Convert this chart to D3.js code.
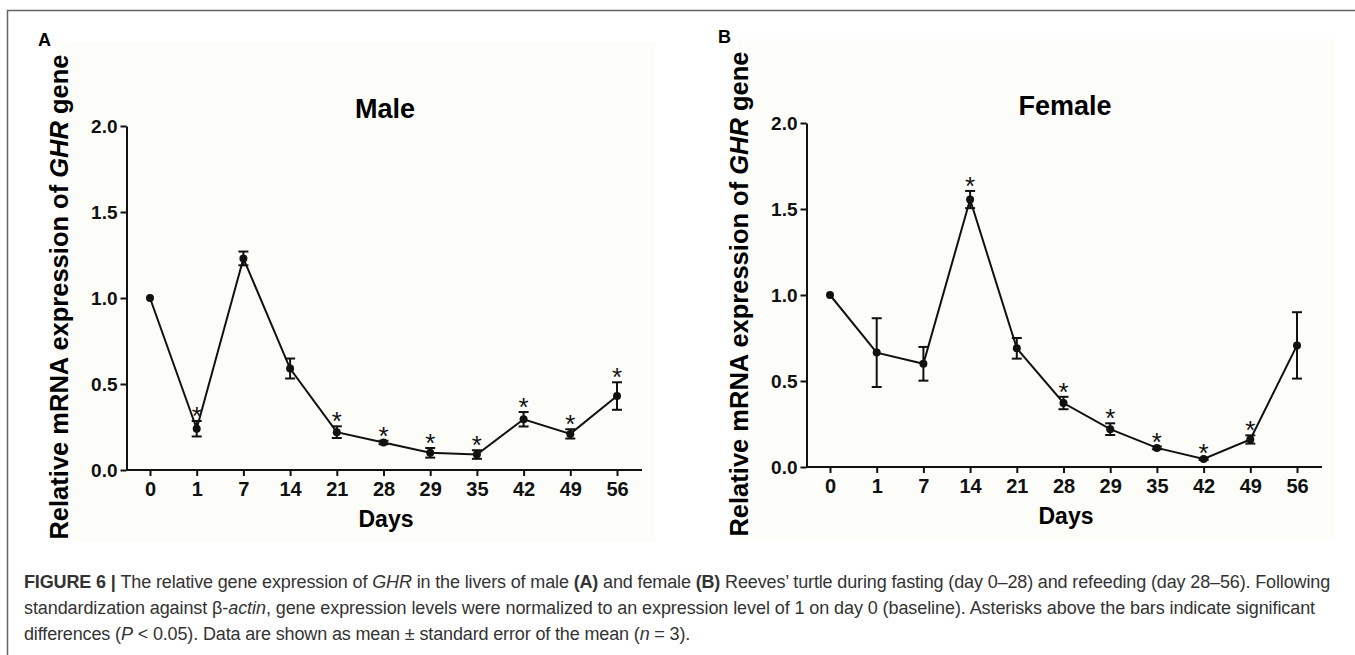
<!DOCTYPE html>
<html>
<head>
<meta charset="utf-8">
<script src="https://cdn.jsdelivr.net/npm/d3@7/dist/d3.min.js"></script>
<style>
  body { margin: 0; background: #fff; }
  svg { display: block; font-family: "Liberation Sans", Arial, sans-serif; }
</style>
</head>
<body>
<div id="chart"></div>
<script>
// days on the x axis
const days = ["0", "1", "7", "14", "21", "28", "29", "35", "42", "49", "56"];
const yTicks = [0, 0.5, 1.0, 1.5, 2.0];

// male (A)
const maleMean = [1.0, 0.24, 1.23, 0.59, 0.22, 0.16, 0.10, 0.09, 0.295, 0.21, 0.43];
const maleSem  = [0, 0.045, 0.04, 0.058, 0.034, 0.01, 0.028, 0.025, 0.042, 0.027, 0.08];
const maleSig  = [false, true, false, false, true, true, true, true, true, true, true];

// female (B)
const femaleMean = [1.0, 0.665, 0.60, 1.555, 0.69, 0.372, 0.22, 0.111, 0.047, 0.16, 0.707];
const femaleSem  = [0, 0.2, 0.098, 0.05, 0.06, 0.036, 0.034, 0.008, 0.006, 0.024, 0.193];
const femaleSig  = [false, false, false, true, false, true, true, true, true, true, false];

const W = 1355, H = 655;
const svg = d3.select("#chart").append("svg").attr("width", W).attr("height", H);

// figure frame (top + left edge)
svg.append("path")
  .attr("d", `M7.5,${H} V10.5 H${W}`)
  .attr("fill", "none").attr("stroke", "#666").attr("stroke-width", 1.5);

function panel(letter, title, mean, sem, sig, ox, oy) {
  const g = svg.append("g").attr("transform", `translate(${ox},${oy})`);

  // faint plot background like the scanned figure
  g.append("rect").attr("x", 57).attr("y", 42).attr("width", 598).attr("height", 500)
    .attr("fill", "#fcfcf9");

  const x = d3.scalePoint().domain(days).range([150, 617]);
  const y = d3.scaleLinear().domain([0, 2]).range([470, 126]);

  g.append("text").attr("x", 38).attr("y", 46)
    .style("font-size", "18px").style("font-weight", "700").text(letter);

  g.append("text").attr("x", 385).attr("y", 118).attr("text-anchor", "middle")
    .style("font-size", "27px").style("font-weight", "700").text(title);

  // y label
  const yl = g.append("text")
    .attr("transform", "translate(68,297) rotate(-90)")
    .attr("text-anchor", "middle")
    .style("font-size", "25.5px").style("font-weight", "700");
  yl.append("tspan").text("Relative mRNA expression of ");
  yl.append("tspan").style("font-style", "italic").text("GHR");
  yl.append("tspan").text(" gene");

  // axes
  const yAxis = g.append("g").attr("transform", "translate(126.5,0)")
    .call(d3.axisLeft(y).tickValues(yTicks).tickFormat(d3.format(".1f")).tickSize(6).tickSizeOuter(0).tickPadding(3));
  const xAxis = g.append("g").attr("transform", "translate(0,470)")
    .call(d3.axisBottom(x).tickSize(6).tickSizeOuter(0).tickPadding(6));
  xAxis.select(".domain").attr("d", "M126.5,0H642");

  [yAxis, xAxis].forEach((a) => {
    a.select(".domain").attr("stroke", "#111").attr("stroke-width", 2);
    a.selectAll(".tick line").attr("stroke", "#111").attr("stroke-width", 2);
    a.selectAll(".tick text").attr("fill", "#111")
      .style("font-weight", "700")
      .style("font-family", "'Liberation Sans', Arial, sans-serif");
  });
  yAxis.selectAll(".tick text").style("font-size", "19px");
  xAxis.selectAll(".tick text").style("font-size", "20px");

  g.append("text").attr("x", 386).attr("y", 527).attr("text-anchor", "middle")
    .style("font-size", "23px").style("font-weight", "700").text("Days");

  const pts = days.map((d, i) => ({ d, m: mean[i], s: sem[i], sig: sig[i] }));

  g.append("path").datum(pts)
    .attr("fill", "none").attr("stroke", "#111").attr("stroke-width", 2)
    .attr("d", d3.line().x((p) => x(p.d)).y((p) => y(p.m)));

  const eb = g.selectAll(".eb").data(pts.filter((p) => p.s > 0)).enter().append("g")
    .attr("stroke", "#111").attr("stroke-width", 2);
  eb.append("line")
    .attr("x1", (p) => x(p.d)).attr("x2", (p) => x(p.d))
    .attr("y1", (p) => y(p.m - p.s)).attr("y2", (p) => y(p.m + p.s));
  eb.append("line")
    .attr("x1", (p) => x(p.d) - 5).attr("x2", (p) => x(p.d) + 5)
    .attr("y1", (p) => y(p.m + p.s)).attr("y2", (p) => y(p.m + p.s));
  eb.append("line")
    .attr("x1", (p) => x(p.d) - 5).attr("x2", (p) => x(p.d) + 5)
    .attr("y1", (p) => y(p.m - p.s)).attr("y2", (p) => y(p.m - p.s));

  g.selectAll(".pt").data(pts).enter().append("circle")
    .attr("cx", (p) => x(p.d)).attr("cy", (p) => y(p.m)).attr("r", 4)
    .attr("fill", "#111");

  g.selectAll(".star").data(pts.filter((p) => p.sig)).enter().append("text")
    .attr("x", (p) => x(p.d)).attr("y", (p) => y(p.m + p.s) + 4)
    .attr("text-anchor", "middle")
    .style("font-size", "26px").attr("fill", "#111").text("*");
}

panel("A", "Male", maleMean, maleSem, maleSig, 0, 0);
panel("B", "Female", femaleMean, femaleSem, femaleSig, 680, -3);

// caption
const cap = svg.append("g").style("font-size", "18px").attr("fill", "#333");
const l1 = cap.append("text").attr("x", 24).attr("y", 588);
l1.append("tspan").style("font-weight", "700").text("FIGURE 6 | ");
l1.append("tspan").text("The relative gene expression of ");
l1.append("tspan").style("font-style", "italic").text("GHR");
l1.append("tspan").text(" in the livers of male ");
l1.append("tspan").style("font-weight", "700").text("(A)");
l1.append("tspan").text(" and female ");
l1.append("tspan").style("font-weight", "700").text("(B)");
l1.append("tspan").text(" Reeves\u2019 turtle during fasting (day 0\u201328) and refeeding (day 28\u201356). Following");
const l2 = cap.append("text").attr("x", 24).attr("y", 614);
l2.append("tspan").text("standardization against \u03b2-");
l2.append("tspan").style("font-style", "italic").text("actin");
l2.append("tspan").text(", gene expression levels were normalized to an expression level of 1 on day 0 (baseline). Asterisks above the bars indicate significant");
const l3 = cap.append("text").attr("x", 24).attr("y", 640);
l3.append("tspan").text("differences (");
l3.append("tspan").style("font-style", "italic").text("P");
l3.append("tspan").text(" < 0.05). Data are shown as mean \u00b1 standard error of the mean (");
l3.append("tspan").style("font-style", "italic").text("n");
l3.append("tspan").text(" = 3).");

// fit the first two (justified) lines to the right margin
let ls = 0;
[[l1, 1330], [l2, 1315]].forEach(([t, right], i) => {
  const w = t.node().getComputedTextLength();
  const n = t.text().length;
  const s = (right - 24 - w) / n;
  t.style("letter-spacing", `${s}px`);
  if (i === 0) ls = s;
});
l3.style("letter-spacing", `${ls}px`);
</script>
</body>
</html>
